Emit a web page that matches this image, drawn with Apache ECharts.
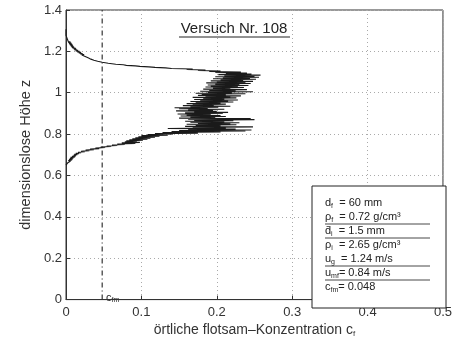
<!DOCTYPE html>
<html>
<head>
<meta charset="utf-8">
<script src="https://cdn.jsdelivr.net/npm/echarts@6/dist/echarts.min.js"></script>
<style>
  html, body { margin: 0; padding: 0; background: #fff; }
  #chart { width: 455px; height: 343px; }
</style>
</head>
<body>
<div id="chart"></div>
<script>
// Measured profile, sampled every 0.0025 in dimensionless height z.
// Each block lists local flotsam concentration c_f from its start height upward.
const zStep = 0.0025;

// lower tail, from z = 0.65
const lowerTailStart = 0.65;
const lowerTail = [
  0.000, 0.000, 0.001, 0.000, 0.002, 0.001, 0.004, 0.002, 0.006, 0.003,
  0.008, 0.004, 0.009, 0.005, 0.010, 0.006, 0.012, 0.008, 0.013, 0.010,
  0.015
];

// lower flank, from z = 0.7025
const lowerFlankStart = 0.7025;
const lowerFlank = [
  0.011, 0.017, 0.013, 0.020, 0.016, 0.025, 0.020, 0.031, 0.026, 0.037,
  0.032, 0.044, 0.039, 0.052, 0.046, 0.060, 0.054, 0.068, 0.061, 0.078,
  0.068, 0.092, 0.074, 0.098, 0.078, 0.094, 0.080, 0.102, 0.084, 0.108,
  0.088, 0.112, 0.092, 0.118, 0.096, 0.124, 0.100, 0.135, 0.108, 0.142
];

// flotsam layer core, from z = 0.8025
const coreStart = 0.8025;
const core = [
  0.118, 0.175, 0.128, 0.205, 0.140, 0.238, 0.150, 0.246, 0.162, 0.225,
  0.135, 0.212, 0.168, 0.248, 0.158, 0.205, 0.172, 0.226, 0.160, 0.218,
  0.175, 0.230, 0.165, 0.210, 0.158, 0.222, 0.170, 0.250, 0.162, 0.245,
  0.150, 0.198, 0.165, 0.212, 0.152, 0.205, 0.160, 0.192, 0.148, 0.208,
  0.158, 0.215, 0.170, 0.200, 0.146, 0.195, 0.162, 0.210, 0.150, 0.188,
  0.144, 0.202, 0.165, 0.218, 0.155, 0.196, 0.168, 0.212, 0.160, 0.205,
  0.172, 0.222, 0.165, 0.215, 0.178, 0.228, 0.170, 0.210, 0.182, 0.226,
  0.168, 0.218, 0.185, 0.232, 0.175, 0.212, 0.180, 0.238, 0.172, 0.220,
  0.188, 0.248, 0.178, 0.225, 0.190, 0.240, 0.182, 0.218, 0.195, 0.236,
  0.185, 0.228, 0.192, 0.242, 0.188, 0.230, 0.198, 0.245, 0.186, 0.238,
  0.200, 0.248, 0.192, 0.235, 0.205, 0.252, 0.195, 0.244, 0.208, 0.256,
  0.198, 0.250, 0.210, 0.258, 0.202, 0.246, 0.212, 0.240, 0.198, 0.232,
  0.190, 0.205, 0.175, 0.185
];

// upper flank and tail, from z = 1.1125
const upperFlankStart = 1.1125;
const upperFlank = [
  0.160, 0.168, 0.140, 0.132, 0.118, 0.110, 0.098, 0.092, 0.080, 0.076,
  0.066, 0.064, 0.056, 0.054, 0.048, 0.046, 0.042, 0.041, 0.037, 0.038,
  0.033, 0.034, 0.030, 0.031, 0.027, 0.029, 0.024, 0.026, 0.021, 0.024,
  0.019, 0.022, 0.017, 0.020, 0.015, 0.018, 0.013, 0.016, 0.011, 0.014,
  0.010, 0.013, 0.008, 0.011, 0.007, 0.010, 0.006, 0.009, 0.005, 0.008,
  0.004, 0.007, 0.003, 0.006, 0.003, 0.005, 0.002, 0.004, 0.002, 0.004,
  0.001, 0.003, 0.001, 0.003, 0.001, 0.002, 0.000, 0.002, 0.001, 0.002,
  0.000, 0.001, 0.000, 0.001, 0.000, 0.001, 0.000, 0.001, 0.000, 0.000
];

// Mean flotsam concentration c_fm (dashed reference line)
const meanConcentration = 0.048;

// Axis ranges / ticks
const xTicks = [0, 0.1, 0.2, 0.3, 0.4, 0.5];
const yTicks = [0, 0.2, 0.4, 0.6, 0.8, 1, 1.2, 1.4];

// Test parameters shown in the info box
const paramLines = [
  { sym: 'd', sub: 'f', val: '  = 60 mm' },
  { sym: 'ρ', sub: 'f', val: '  = 0.72 g/cm³' },
  { sym: 'd̄', sub: 'i', val: '  = 1.5 mm' },
  { sym: 'ρ', sub: 'i', val: '  = 2.65 g/cm³' },
  { sym: 'u', sub: 'g', val: '  = 1.24 m/s' },
  { sym: 'u', sub: 'mf', val: '= 0.84 m/s' },
  { sym: 'c', sub: 'fm', val: '= 0.048' }
];
const underlinedRows = [1, 2, 4, 5];

function toPoints(values, start) {
  return values.map((c, i) => [c, +(start + i * zStep).toFixed(4)]);
}
const profile = []
  .concat(toPoints(lowerTail, lowerTailStart))
  .concat(toPoints(lowerFlank, lowerFlankStart))
  .concat(toPoints(core, coreStart))
  .concat(toPoints(upperFlank, upperFlankStart));

const chart = echarts.init(document.getElementById('chart'), null, { renderer: 'canvas' });

const fontFamily = 'Liberation Sans, Arial, sans-serif';
const G = { left: 66, top: 10, right: 9, bottom: 35 };

// info box graphics
const boxLeft = 312, boxTop = 186;
const rowTop = 203, rowGap = 14;
const boxElems = [{
  type: 'rect',
  shape: { x: boxLeft, y: boxTop, width: 455 - G.right - boxLeft, height: 343 - G.bottom - boxTop },
  style: { fill: '#fff', stroke: '#222', lineWidth: 1 },
  z: 10
}];
paramLines.forEach((p, i) => {
  const y = rowTop + i * rowGap;
  boxElems.push({
    type: 'text',
    x: 325, y: y,
    style: {
      text: '{s|' + p.sym + '}{b|' + p.sub + '}{v|' + p.val + '}',
      verticalAlign: 'middle',
      rich: {
        s: { fontSize: 11, fontFamily: fontFamily, fill: '#222' },
        b: { fontSize: 7, fontFamily: fontFamily, fill: '#222', padding: [6, 0, 0, 0] },
        v: { fontSize: 11, fontFamily: fontFamily, fill: '#222' }
      }
    },
    z: 11
  });
  if (underlinedRows.includes(i)) {
    boxElems.push({
      type: 'line',
      shape: { x1: 325, y1: y + 7, x2: 430, y2: y + 7 },
      style: { stroke: '#333', lineWidth: 0.9 },
      z: 11
    });
  }
});

const option = {
  animation: false,
  backgroundColor: '#fff',
  grid: { left: G.left, top: G.top, right: G.right, bottom: G.bottom, show: true, borderColor: '#333', borderWidth: 1 },
  xAxis: {
    type: 'value', min: xTicks[0], max: xTicks[xTicks.length - 1], interval: 0.1,
    name: '{n|örtliche flotsam–Konzentration c}{s|f}',
    nameLocation: 'middle', nameGap: 18,
    nameTextStyle: {
      rich: {
        n: { fontSize: 14, fontFamily: fontFamily, color: '#333' },
        s: { fontSize: 8, fontFamily: fontFamily, color: '#333', padding: [7, 0, 0, 0] }
      }
    },
    axisLine: { show: true, onZero: false, lineStyle: { color: '#333' } },
    axisTick: { show: true, inside: true, length: 4, lineStyle: { color: '#333' } },
    axisLabel: { fontSize: 13, fontFamily: fontFamily, color: '#333', margin: 6 },
    splitLine: { show: true, lineStyle: { color: '#aaa', type: [1, 3], width: 1 } }
  },
  yAxis: {
    type: 'value', min: yTicks[0], max: yTicks[yTicks.length - 1], interval: 0.2,
    name: 'dimensionslose Höhe z',
    nameLocation: 'middle', nameGap: 29,
    nameTextStyle: { fontSize: 14.5, fontFamily: fontFamily, color: '#333' },
    axisLine: { show: true, onZero: false, lineStyle: { color: '#333' } },
    axisTick: { show: true, inside: true, length: 4, lineStyle: { color: '#333' } },
    axisLabel: { fontSize: 13, fontFamily: fontFamily, color: '#333', margin: 4 },
    splitLine: { show: true, lineStyle: { color: '#aaa', type: [1, 3], width: 1 } }
  },
  series: [
    {
      type: 'line',
      data: profile,
      showSymbol: false,
      lineStyle: { color: '#1a1a1a', width: 1.1 },
      z: 3
    },
    {
      type: 'line',
      data: [[meanConcentration, 0], [meanConcentration, 1.4]],
      showSymbol: false,
      lineStyle: { color: '#333', width: 1.2, type: [5, 3, 1, 3] },
      z: 2
    }
  ],
  graphic: [
    {
      type: 'text', x: 234, y: 29,
      style: { text: 'Versuch Nr. 108', fontSize: 15, fontFamily: fontFamily, fill: '#222', align: 'center', verticalAlign: 'middle' }
    },
    {
      type: 'line', shape: { x1: 179, y1: 37, x2: 290, y2: 37 },
      style: { stroke: '#222', lineWidth: 1 }
    },
    {
      type: 'text', x: 106, y: 298,
      style: {
        text: '{c|c}{s|fm}',
        verticalAlign: 'middle',
        rich: {
          c: { fontSize: 11, fontFamily: fontFamily, fill: '#222' },
          s: { fontSize: 7, fontFamily: fontFamily, fill: '#222', padding: [5, 0, 0, 0] }
        }
      }
    }
  ].concat(boxElems)
};

chart.setOption(option);
</script>
</body>
</html>
